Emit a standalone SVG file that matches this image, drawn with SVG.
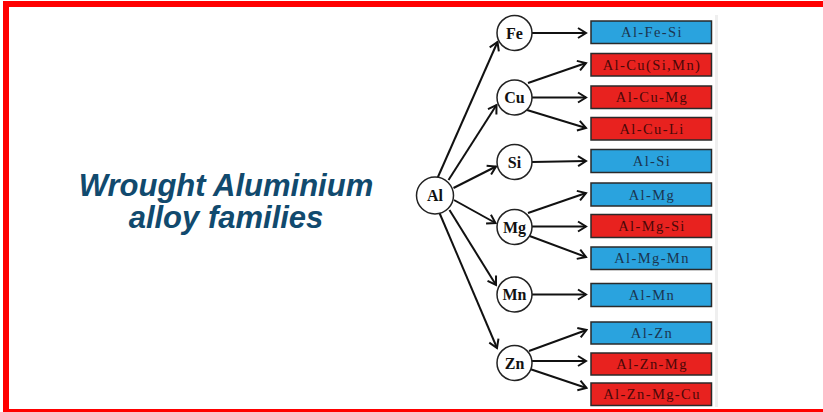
<svg xmlns="http://www.w3.org/2000/svg" width="823" height="412" viewBox="0 0 823 412">
  <style>
    .frame { fill: none; stroke: #ff0000; stroke-width: 6; }
    .title { font-family: "Liberation Sans", Arial, sans-serif; font-size: 31px; font-weight: bold; font-style: italic; fill: #114a6e; text-anchor: middle; }
    .node circle { fill: #ffffff; stroke: #222222; stroke-width: 1.5; }
    .node text { font-family: "Liberation Serif", "Times New Roman", serif; font-size: 16px; font-weight: bold; fill: #111111; text-anchor: middle; dominant-baseline: central; }
    .alloy rect { stroke: #2a2a2a; stroke-width: 1.5; }
    .alloy text { font-family: "Liberation Serif", "Times New Roman", serif; font-size: 14.5px; letter-spacing: 1.4px; text-anchor: middle; dominant-baseline: central; }
    .blue rect { fill: #2aa3de; }
    .blue text { fill: #1b3550; }
    .red rect { fill: #e8221f; }
    .red text { fill: #4a0808; }
    .links line { stroke: #111111; stroke-width: 2; marker-end: url(#ah); }
  </style>
  <defs>
    <marker id="ah" viewBox="-10 -7 12 14" markerWidth="12" markerHeight="14" refX="0" refY="0" orient="auto" markerUnits="userSpaceOnUse">
      <path d="M-8,-5 L0,0 L-8,5" fill="none" stroke="#111111" stroke-width="2"/>
    </marker>
  </defs>

  <rect width="823" height="412" fill="#ffffff"/>
  <!-- outer red frame, open to the right -->
  <rect class="frame" x="6" y="4" width="900" height="408"/>
  <!-- faint edge of the chart panel -->
  <rect x="715" y="15" width="3" height="392" fill="#efefef"/>

  <g id="title">
    <text class="title" x="226" y="196">Wrought Aluminium</text>
    <text class="title" x="226" y="228">alloy families</text>
  </g>

  <g id="connectors" class="links">
    <!-- Al to alloying elements -->
    <line x1="437.5" y1="178" x2="497.5" y2="42"/>
    <line x1="448.5" y1="180" x2="496.5" y2="105"/>
    <line x1="453.5" y1="188" x2="496" y2="166.5"/>
    <line x1="454" y1="200" x2="495.5" y2="223"/>
    <line x1="449.5" y1="210" x2="496" y2="285"/>
    <line x1="439.5" y1="213" x2="497" y2="348"/>
    <!-- elements to alloy series -->
    <line x1="532" y1="33" x2="586" y2="33"/>
    <line x1="528" y1="83" x2="586" y2="63"/>
    <line x1="532" y1="97.5" x2="586" y2="97.5"/>
    <line x1="527" y1="110" x2="586" y2="128"/>
    <line x1="532" y1="162" x2="586" y2="161"/>
    <line x1="528" y1="213" x2="586" y2="193"/>
    <line x1="532" y1="226.5" x2="586" y2="226.5"/>
    <line x1="527" y1="235" x2="586" y2="257"/>
    <line x1="532" y1="294.5" x2="586" y2="294.5"/>
    <line x1="529" y1="351" x2="586.5" y2="330"/>
    <line x1="532" y1="361" x2="586" y2="361"/>
    <line x1="527" y1="368" x2="586.5" y2="388"/>
  </g>

  <g id="node-al" class="node"><circle cx="435" cy="195.5" r="18.5"/><text x="435" y="195.5">Al</text></g>
  <g id="node-fe" class="node"><circle cx="514.5" cy="33" r="17.5"/><text x="514.5" y="33">Fe</text></g>
  <g id="node-cu" class="node"><circle cx="514.5" cy="97.5" r="17.5"/><text x="514.5" y="97.5">Cu</text></g>
  <g id="node-si" class="node"><circle cx="514.5" cy="162" r="17.5"/><text x="514.5" y="162">Si</text></g>
  <g id="node-mg" class="node"><circle cx="514.5" cy="227" r="17.5"/><text x="514.5" y="227">Mg</text></g>
  <g id="node-mn" class="node"><circle cx="514.5" cy="294.5" r="17.5"/><text x="514.5" y="294.5">Mn</text></g>
  <g id="node-zn" class="node"><circle cx="514.5" cy="363" r="17.5"/><text x="514.5" y="363">Zn</text></g>

  <g id="alloy-al-fe-si" class="alloy blue"><rect x="591" y="21" width="120.5" height="22.5"/><text x="652" y="32.3">Al-Fe-Si</text></g>
  <g id="alloy-al-cu-si-mn" class="alloy red"><rect x="591" y="53.5" width="120.5" height="22.5"/><text x="652" y="64.8">Al-Cu(Si,Mn)</text></g>
  <g id="alloy-al-cu-mg" class="alloy red"><rect x="591" y="86" width="120.5" height="22.5"/><text x="652" y="97.3">Al-Cu-Mg</text></g>
  <g id="alloy-al-cu-li" class="alloy red"><rect x="591" y="117.5" width="120.5" height="22.5"/><text x="652" y="128.8">Al-Cu-Li</text></g>
  <g id="alloy-al-si" class="alloy blue"><rect x="591" y="149.5" width="120.5" height="23"/><text x="652" y="161">Al-Si</text></g>
  <g id="alloy-al-mg" class="alloy blue"><rect x="591" y="183" width="120.5" height="23"/><text x="652" y="194.5">Al-Mg</text></g>
  <g id="alloy-al-mg-si" class="alloy red"><rect x="591" y="214.5" width="120.5" height="23"/><text x="652" y="226">Al-Mg-Si</text></g>
  <g id="alloy-al-mg-mn" class="alloy blue"><rect x="591" y="247" width="120.5" height="22.5"/><text x="652" y="258.3">Al-Mg-Mn</text></g>
  <g id="alloy-al-mn" class="alloy blue"><rect x="591" y="283.5" width="120.5" height="23"/><text x="652" y="295">Al-Mn</text></g>
  <g id="alloy-al-zn" class="alloy blue"><rect x="591" y="322" width="120.5" height="22"/><text x="652" y="333">Al-Zn</text></g>
  <g id="alloy-al-zn-mg" class="alloy red"><rect x="591" y="353" width="120.5" height="22"/><text x="652" y="364">Al-Zn-Mg</text></g>
  <g id="alloy-al-zn-mg-cu" class="alloy red"><rect x="591" y="383" width="120.5" height="22.5"/><text x="652" y="394.3">Al-Zn-Mg-Cu</text></g>
</svg>
